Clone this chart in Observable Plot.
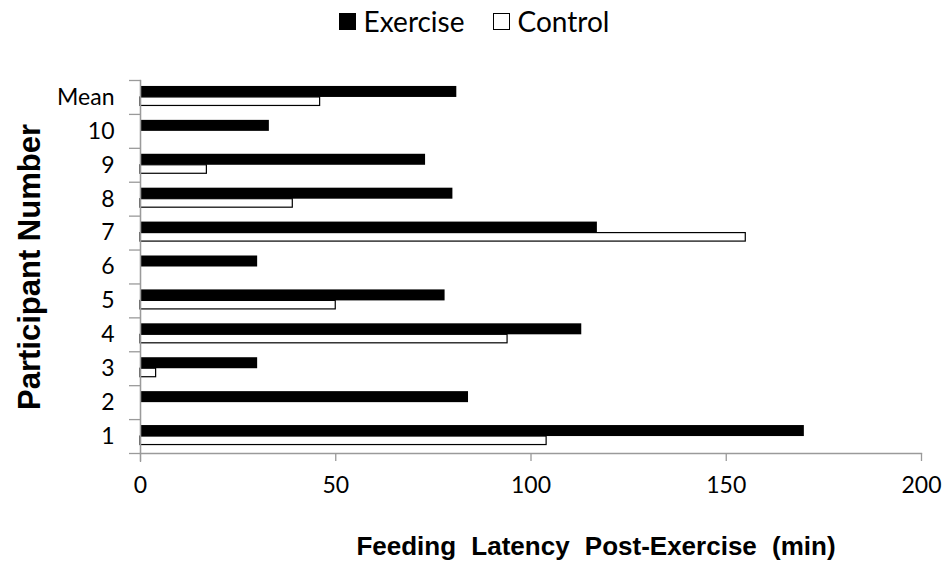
<!DOCTYPE html>
<html>
<head>
<meta charset="utf-8">
<script src="https://cdn.jsdelivr.net/npm/d3@7"></script>
<script src="https://cdn.jsdelivr.net/npm/@observablehq/plot@0.6"></script>
<style>
  body { margin: 0; background: #fff; }
  #legend { height: 42px; width: 948px; display: flex; justify-content: center; align-items: center; font-family: Lato, "Open Sans", sans-serif; font-size: 28px; color: #000; padding-left: 0px; box-sizing: border-box; }
  .sw { display: inline-block; width: 17px; height: 17px; margin-right: 8px; box-sizing: border-box; border: 1px solid #000; }
  .item { display: flex; align-items: center; margin: 0 14px; }
  #chart svg { display: block; }
</style>
</head>
<body>
<div id="legend"></div>
<div id="chart"></div>
<script>
const participants = ["Mean", "10", "9", "8", "7", "6", "5", "4", "3", "2", "1"];
const exercise = [81, 33, 73, 80, 117, 30, 78, 113, 30, 84, 170];
const control = [46, 0, 17, 39, 155, 0, 50, 94, 4, 0, 104];
const xTicks = [0, 50, 100, 150, 200];
const seriesNames = ["Exercise", "Control"];
const seriesFill = ["#000", "#fff"];

const exData = participants.map((p, i) => ({participant: p, value: exercise[i]}));
const ctData = participants.map((p, i) => ({participant: p, value: control[i]}));

const lg = document.getElementById("legend");
seriesNames.forEach((n, i) => {
  const it = document.createElement("span");
  it.className = "item";
  const sw = document.createElement("span");
  sw.className = "sw";
  sw.style.background = seriesFill[i];
  it.appendChild(sw);
  it.appendChild(document.createTextNode(n));
  lg.appendChild(it);
});

const height = 526, marginTop = 38, marginBottom = 115;
const band = (height - marginTop - marginBottom) / participants.length;
const half = band / 2;
const grey = "#9a9a9a";
const titleFont = "'Liberation Sans', Arial, sans-serif";

const chart = Plot.plot({
  width: 948,
  height,
  marginLeft: 140,
  marginRight: 27,
  marginTop,
  marginBottom,
  style: {fontFamily: "Lato, 'Open Sans', sans-serif", fontSize: "23px", color: "#000", background: "#fff", overflow: "visible"},
  x: {domain: [0, 200], ticks: xTicks},
  y: {domain: participants, padding: 0, round: false},
  marks: [
    Plot.barX(exData, {x: "value", y: "participant", fill: seriesFill[0], insetTop: half - 11, insetBottom: half}),
    Plot.barX(ctData.filter(d => d.value > 0), {x: "value", y: "participant", fill: seriesFill[1], stroke: "#000", strokeWidth: 1.2, insetTop: half, insetBottom: half - 8.5}),
    Plot.frame({anchor: "left", stroke: grey, strokeWidth: 1.3}),
    Plot.frame({anchor: "bottom", stroke: grey, strokeWidth: 1.3}),
    Plot.ruleX([0], {stroke: grey, strokeWidth: 1.3, insetBottom: -9}),
    Plot.axisX({ticks: xTicks, tickSize: 8, tickPadding: 15, stroke: grey, strokeWidth: 1.3, label: null, fontSize: 23}),
    Plot.axisY({tickSize: 0, tickPadding: 26, label: null, fontSize: 23}),
    Plot.axisY({tickSize: 11, text: null, dy: -half, stroke: grey, strokeWidth: 1.3, label: null}),
    Plot.axisY(["1"], {tickSize: 11, text: null, dy: half, stroke: grey, strokeWidth: 1.3, label: null}),
    Plot.text(["Feeding Latency Post-Exercise (min)"], {frameAnchor: "bottom", textAnchor: "middle", dx: 65, dy: 101, fontSize: 26, fontWeight: "bold", fontFamily: titleFont, fill: "#000"}),
    Plot.text(["Participant Number"], {frameAnchor: "left", textAnchor: "middle", rotate: -90, dx: -110, dy: 0, fontSize: 31, fontWeight: "bold", fontFamily: titleFont, fill: "#000"})
  ]
});
d3.select(chart).selectAll("text").filter(function() { return this.textContent === "Feeding Latency Post-Exercise (min)"; }).attr("word-spacing", "8px");
document.getElementById("chart").appendChild(chart);
</script>
</body>
</html>
